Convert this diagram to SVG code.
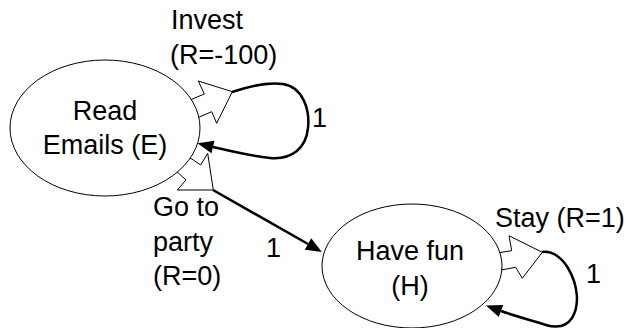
<svg xmlns="http://www.w3.org/2000/svg" width="629" height="328" viewBox="0 0 629 328">
<style>
text{font-family:"Liberation Sans",Arial,sans-serif;font-size:27px;fill:#000}
.node{fill:#fff;stroke:#000;stroke-width:1}
.block{fill:#fff;stroke:#000;stroke-width:1;stroke-linejoin:miter}
.edge{fill:none;stroke:#000;stroke-width:2.5}
</style>
<defs>
<marker id="ah" markerUnits="userSpaceOnUse" markerWidth="18" markerHeight="14" refX="0" refY="6.5" orient="auto" overflow="visible">
<path d="M0,0 L16,6.5 L0,13 z" fill="#000"/>
</marker>
</defs>
<rect width="629" height="328" fill="#fff"/>
<g id="connectors">
<polygon class="block" points="190,100 204.3,94 198.3,81 232.3,91.7 216.7,123.3 211.7,111.7 197,118"/>
<polygon class="block" points="186,155 200.7,165 207.7,153.3 213.3,190 177.3,190 186,180 174,169"/>
<polygon class="block" points="497,253 511.7,250.7 509,235.7 542.3,252.3 522.3,278.3 515.7,267.3 501,270"/>
<path class="edge" d="M232,92 C250,86 270,82 283,84 C303,87 310,110 308,128 C306,148 292,160 270,158 C250,156 230,151 213,147" marker-end="url(#ah)"/>
<path class="edge" d="M213,190 L308,244" marker-end="url(#ah)"/>
<path class="edge" d="M542,252 C552,250 562,258 568,268 C578,285 580,305 572,318 C566,327 556,328 546,325 C530,320 515,316 501,311" marker-end="url(#ah)"/>
<text x="171" y="29">Invest</text>
<text x="170" y="64">(R=-100)</text>
<text x="312" y="127">1</text>
<text x="153" y="216">Go to</text>
<text x="153" y="251">party</text>
<text x="153" y="285">(R=0)</text>
<text x="266" y="257">1</text>
<text x="495" y="227">Stay (R=1)</text>
<text x="586" y="283">1</text>
</g>
<g id="node-E">
<ellipse class="node" cx="105" cy="128" rx="95" ry="68"/>
<text x="105" y="120" text-anchor="middle">Read</text>
<text x="105" y="154" text-anchor="middle">Emails (E)</text>
</g>
<g id="node-H">
<ellipse class="node" cx="412" cy="266" rx="90" ry="62"/>
<text x="410" y="260" text-anchor="middle">Have fun</text>
<text x="410" y="295" text-anchor="middle">(H)</text>
</g>
</svg>
